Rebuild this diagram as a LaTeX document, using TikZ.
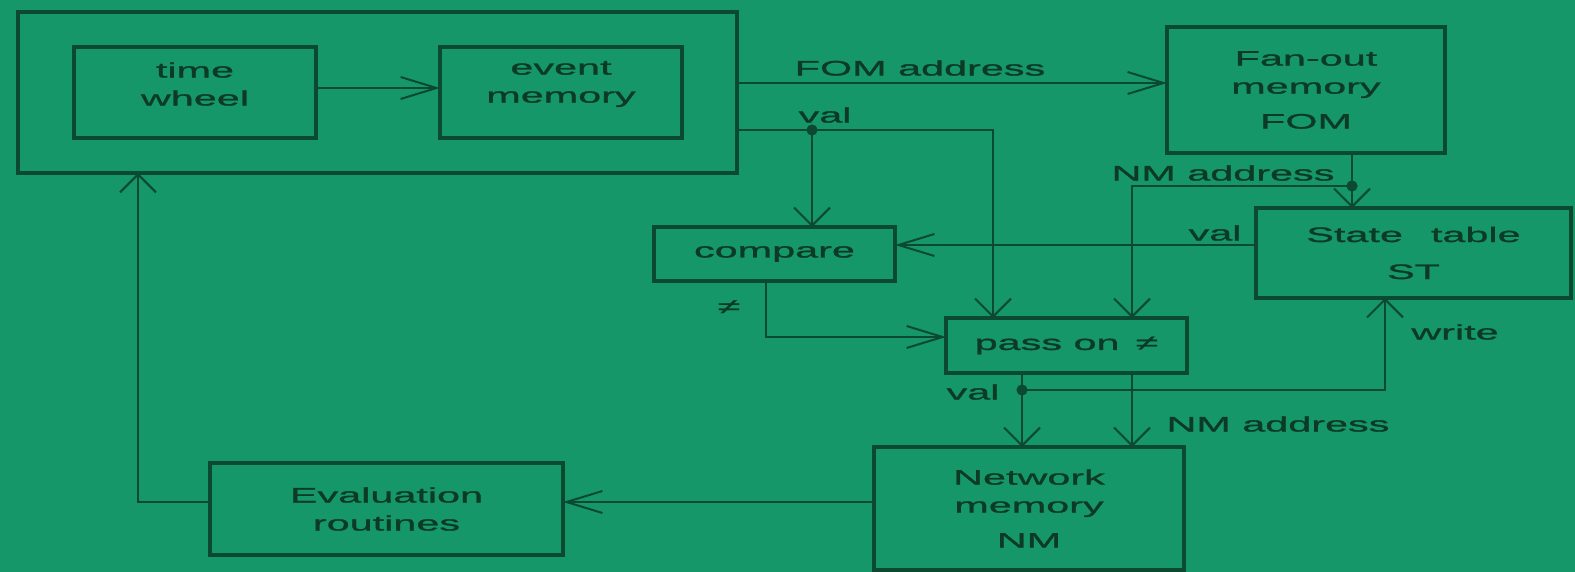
\documentclass[tikz,border=0pt]{standalone}
\usepackage{fontspec}
\setmainfont{Liberation Sans}[FakeStretch=1.97,FakeBold=1.2]
\usetikzlibrary{arrows.meta}
\definecolor{bg}{HTML}{159769}
\definecolor{ln}{HTML}{0B4A30}
\definecolor{tx}{HTML}{0C3A25}
\begin{document}
\begin{tikzpicture}[x=0.5pt,y=-0.5pt,
  box/.style={draw=ln, line width=2.2pt, inner sep=0pt, outer sep=0pt, align=center, text=tx, font=\fontsize{10.5}{14}\selectfont},
  lbl/.style={text=tx, inner sep=0pt, align=center, font=\fontsize{10.5}{14}\selectfont},
  conn/.style={draw=ln, line width=1.2pt},
  av/.style={conn, -{Straight Barb[length=9pt,width=18pt,line width=1pt]}},
  ah/.style={conn, -{Straight Barb[length=18pt,width=11pt,line width=1pt]}},
  dotf/.style={fill=ln}]
\useasboundingbox (0,0) rectangle (1575,572);
\fill[bg] (0,0) rectangle (1575,572);

% boxes
\node[box, line width=2pt, minimum width=359.5pt, minimum height=80.5pt] (sched) at (377.5,92.5) {};
\node[box, minimum width=121pt, minimum height=45.5pt] (tw) at (195,92.5) {};
\node[lbl] (twt) at (195,84) {time\\wheel};
\node[box, minimum width=121pt, minimum height=45.5pt] (em) at (561,92.5) {};
\node[lbl] (emt) at (561,84) {event\\memory};
\node[box, minimum width=139pt, minimum height=63pt] (fom) at (1306,90) {Fan-out\\memory\\[3.5pt]FOM};
\node[box, minimum width=120.5pt, minimum height=27pt] (cmp) at (774.5,254) {compare};
\node[box, minimum width=157.5pt, minimum height=45pt] (st) at (1413.5,253) {State\hspace{14pt}table\\[4.5pt]ST};
\node[box, minimum width=120.5pt, minimum height=27.5pt] (po) at (1066.5,345.5) {pass on\hspace{8pt}≠};
\node[box, minimum width=155pt, minimum height=61.5pt] (nm) at (1029,508.5) {Network\\memory\\[3.5pt]NM};
\node[box, minimum width=176.5pt, minimum height=46pt] (ev) at (386.5,509) {Evaluation\\routines};

% helper coordinates
\coordinate (f1) at ([yshift=3.5pt]fom.west);
\coordinate (v1) at (812,130);
\coordinate (p1) at ([xshift=-36.75pt]po.north);
\coordinate (n1) at (1352,186);
\coordinate (p2) at ([xshift=32.75pt]po.north);
\coordinate (s1) at ([yshift=4pt]st.west);
\coordinate (c1) at ([yshift=4.25pt]po.west);
\coordinate (c0) at ([xshift=-4.25pt]cmp.south);
\coordinate (w1) at (1022,390);
\coordinate (s2) at ([xshift=-14.25pt]st.south);
\coordinate (p3) at ([xshift=32.75pt]po.south);
\coordinate (e1) at ([yshift=3.25pt]nm.west);
\coordinate (e2) at ([yshift=3.5pt]ev.west);
\coordinate (s3) at ([xshift=-119.75pt]sched.south);

% connectors
\draw[ah] ([yshift=2.25pt]tw.east) -- ([yshift=2.25pt]em.west);
\draw[ah] (f1 -| sched.east) -- (f1);
\draw[av] (v1 -| sched.east) -- (v1) -| (p1);
\draw[av] (v1) -- (v1 |- cmp.north);
\fill[dotf] (v1) circle (2.8pt);
\draw[av] (n1 |- fom.south) -- (n1 |- st.north);
\draw[av] (n1) -| (p2);
\fill[dotf] (n1) circle (2.8pt);
\draw[ah] (s1) -- (s1 -| cmp.east);
\draw[ah] (c0) |- (c1);
\draw[av] (w1 |- po.south) -- (w1 |- nm.north);
\draw[av] (w1) -| (s2);
\fill[dotf] (w1) circle (2.8pt);
\draw[av] (p3) -- (p3 |- nm.north);
\draw[ah] (e1) -- (e1 -| ev.east);
\draw[av] (e2) -| (s3);

% labels
\node[lbl] (lfom) at (920,68) {FOM address};
\node[lbl] (lval1) at (825,115) {val};
\node[lbl] (lnm1) at (1223,173) {NM address};
\node[lbl] (lval2) at (1215,233) {val};
\node[lbl] (lne) at (729,307) {≠};
\node[lbl] (lwr) at (1455,332) {write};
\node[lbl] (lval3) at (973,392) {val};
\node[lbl] (lnm2) at (1278,424) {NM address};
\end{tikzpicture}
\end{document}
